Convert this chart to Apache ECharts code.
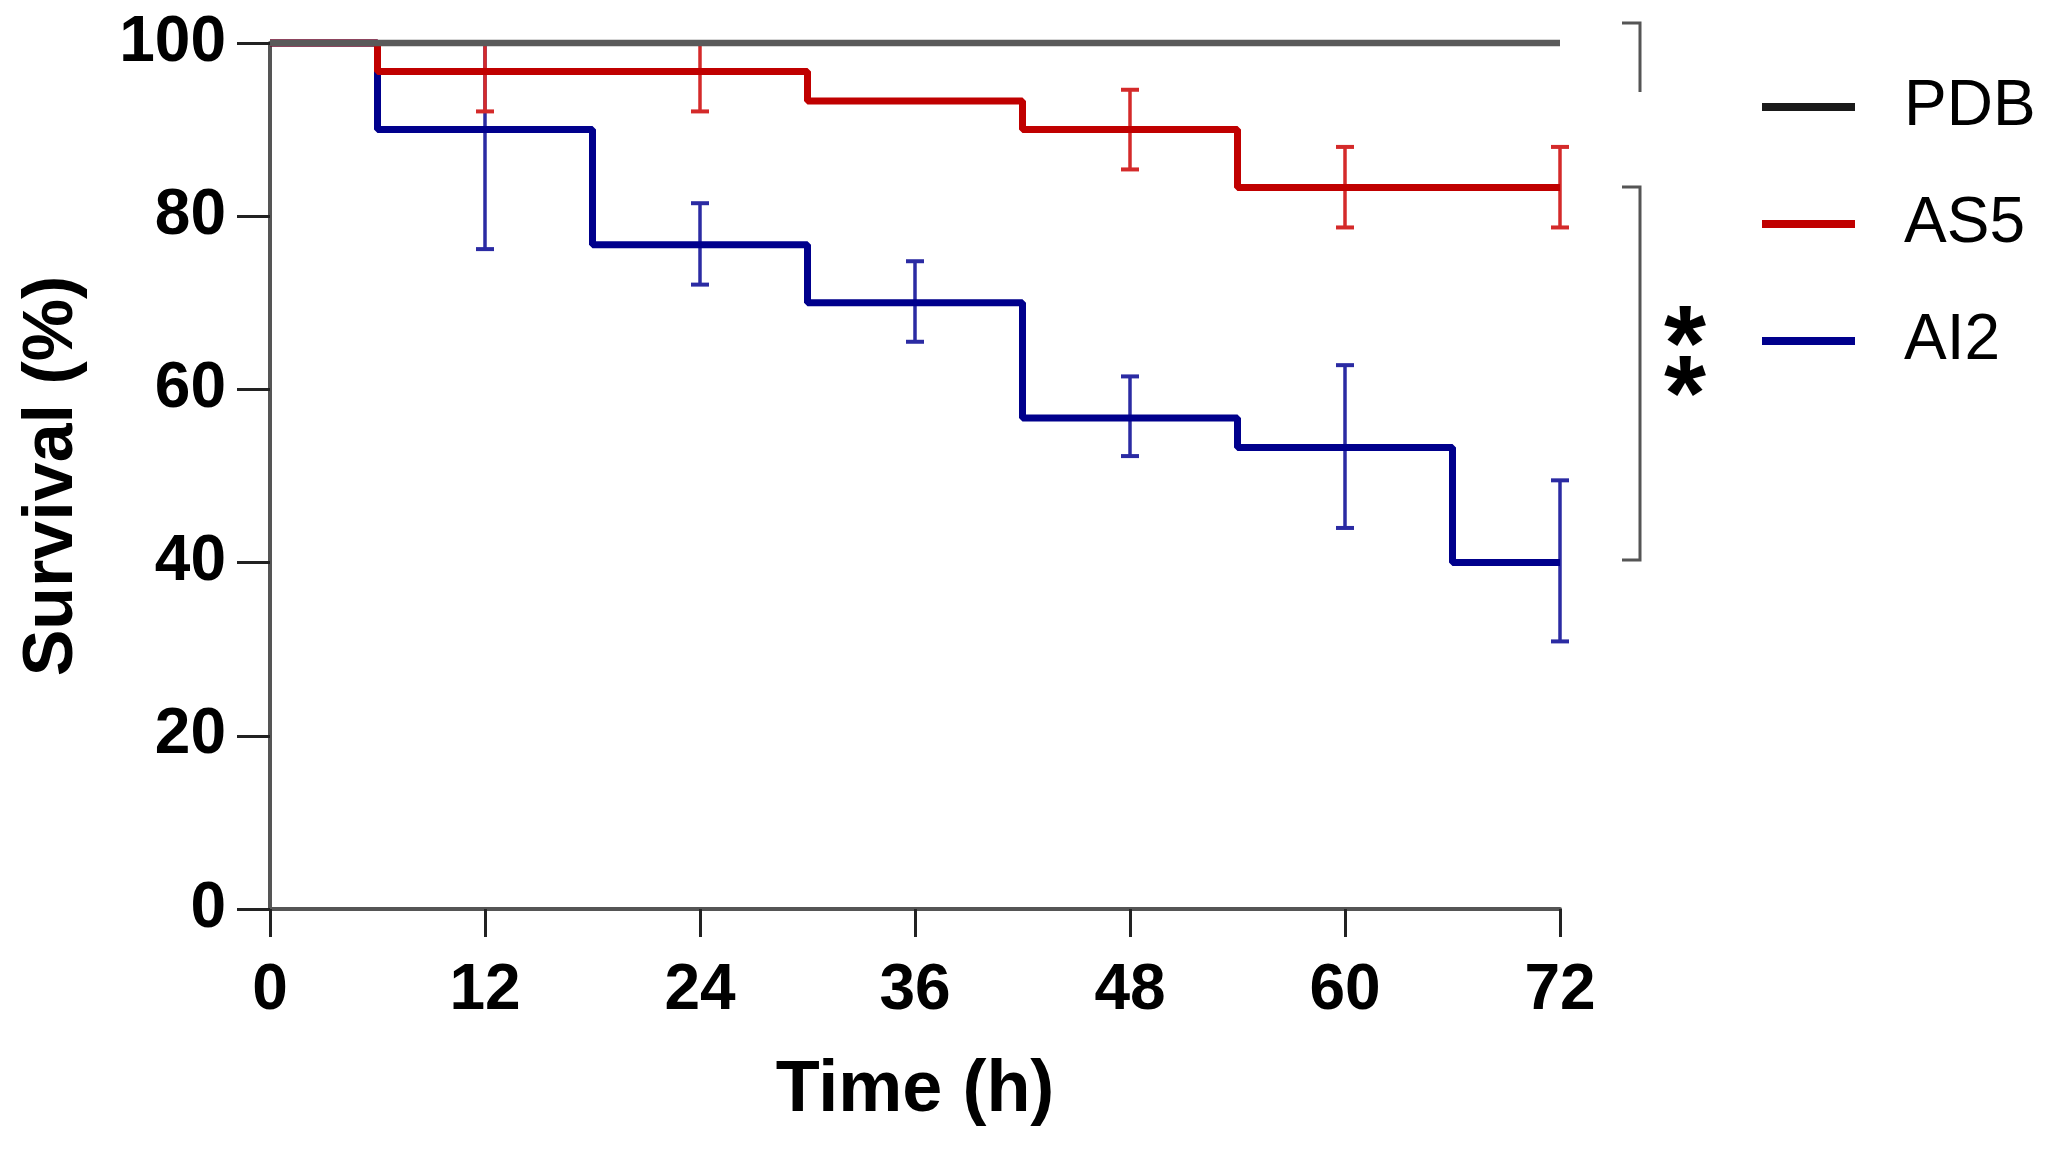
<!DOCTYPE html>
<html>
<head>
<meta charset="utf-8">
<script src="https://cdn.jsdelivr.net/npm/echarts@6/dist/echarts.min.js"></script>
<style>
html,body{margin:0;padding:0;background:#fff;}
#chart{width:2049px;height:1157px;}
</style>
</head>
<body>
<div id="chart"></div>
<script>
// ---- data ----
const xTicks = [0, 12, 24, 36, 48, 60, 72];
const yTicks = [0, 20, 40, 60, 80, 100];
const seriesNames = ['PDB', 'AS5', 'AI2'];

const pdbTime = [0, 72];
const pdbSurv = [100, 100];

const as5Time = [0, 6, 30, 42, 54, 72];
const as5Surv = [100, 96.7, 93.3, 90, 83.3, 83.3];

const ai2Time = [0, 6, 18, 30, 42, 54, 66, 72];
const ai2Surv = [100, 90, 76.7, 70, 56.7, 53.3, 40, 40];

const as5ErrTime = [12, 24, 48, 60, 72];
const as5ErrLow  = [92.1, 92.1, 85.4, 78.7, 78.7];
const as5ErrHigh = [100, 100, 94.6, 88.0, 88.0];

const ai2ErrTime = [12, 24, 36, 48, 60, 72];
const ai2ErrLow  = [76.2, 72.1, 65.5, 52.3, 44.0, 30.9];
const ai2ErrHigh = [100, 81.5, 74.8, 61.5, 62.8, 49.5];

const significance = '*';

// ---- build ----
const zip = (a, b) => a.map((v, i) => [v, b[i]]);
const zip3 = (a, b, c) => a.map((v, i) => [v, b[i], c[i]]);

const FONT = 'Liberation Sans, Arial, sans-serif';
const C_PDB = '#1a1a1a', C_AS5 = '#c00000', C_AI2 = '#00008c';
const C_AS5_ERR = '#d42a2a', C_AI2_ERR = '#2b2ba3';

function errRender(color) {
  return function (params, api) {
    const x = api.value(0), lo = api.value(1), hi = api.value(2);
    const pLo = api.coord([x, lo]), pHi = api.coord([x, hi]);
    const cw = 9;
    const st = { stroke: color, lineWidth: 3.5 };
    return {
      type: 'group',
      children: [
        { type: 'line', shape: { x1: pLo[0], y1: pLo[1], x2: pHi[0], y2: pHi[1] }, style: st },
        { type: 'line', shape: { x1: pLo[0] - cw, y1: pLo[1], x2: pLo[0] + cw, y2: pLo[1] }, style: { stroke: color, lineWidth: 4 } },
        { type: 'line', shape: { x1: pHi[0] - cw, y1: pHi[1], x2: pHi[0] + cw, y2: pHi[1] }, style: { stroke: color, lineWidth: 4 } }
      ]
    };
  };
}

const chart = echarts.init(document.getElementById('chart'), null, { renderer: 'canvas' });

chart.setOption({
  backgroundColor: '#ffffff',
  animation: false,
  grid: { left: 270, right: 489, top: 43, bottom: 248, containLabel: false },
  xAxis: {
    type: 'value', min: xTicks[0], max: xTicks[xTicks.length - 1], interval: 12,
    name: 'Time (h)', nameLocation: 'middle', nameGap: 146,
    nameTextStyle: { fontFamily: FONT, fontWeight: 'bold', fontSize: 72, color: '#000' },
    axisLine: { show: true, onZero: false, lineStyle: { color: '#555', width: 4 } },
    axisTick: { show: true, length: 28, lineStyle: { color: '#222', width: 3 } },
    axisLabel: { fontFamily: FONT, fontWeight: 'bold', fontSize: 64, color: '#000', margin: 50 },
    splitLine: { show: false }
  },
  yAxis: {
    type: 'value', min: yTicks[0], max: yTicks[yTicks.length - 1], interval: 20,
    name: 'Survival (%)', nameLocation: 'middle', nameGap: 182, nameRotate: 90,
    nameTextStyle: { fontFamily: FONT, fontWeight: 'bold', fontSize: 70, color: '#000' },
    axisLine: { show: true, onZero: false, lineStyle: { color: '#555', width: 4 } },
    axisTick: { show: true, length: 33, lineStyle: { color: '#222', width: 3 } },
    axisLabel: { fontFamily: FONT, fontWeight: 'bold', fontSize: 64, color: '#000', margin: 44 },
    splitLine: { show: false }
  },
  legend: {
    data: seriesNames,
    orient: 'vertical', left: 1757, top: 70,
    icon: 'rect', itemWidth: 93, itemHeight: 8, itemGap: 53,
    textStyle: { fontFamily: FONT, fontSize: 64, color: '#000', lineHeight: 64, padding: [0, 0, 0, 44] },
    selectedMode: false
  },
  series: [
    { type: 'custom', name: 'AI2 err', renderItem: errRender(C_AI2_ERR), data: zip3(ai2ErrTime, ai2ErrLow, ai2ErrHigh), z: 2, clip: false, silent: true },
    { type: 'line', name: 'AI2', data: zip(ai2Time, ai2Surv), step: 'end', symbol: 'none', color: C_AI2, lineStyle: { width: 7, color: C_AI2 }, z: 3, clip: false },
    { type: 'custom', name: 'AS5 err', renderItem: errRender(C_AS5_ERR), data: zip3(as5ErrTime, as5ErrLow, as5ErrHigh), z: 4, clip: false, silent: true },
    { type: 'line', name: 'AS5', data: zip(as5Time, as5Surv), step: 'end', symbol: 'none', color: C_AS5, lineStyle: { width: 7, color: C_AS5 }, z: 5, clip: false },
    { type: 'line', name: 'PDB', data: zip(pdbTime, pdbSurv), step: 'end', symbol: 'none', color: C_PDB, lineStyle: { width: 6.5, color: '#5a5a5a' }, z: 6, clip: false }
  ],
  graphic: [
    { type: 'polyline', shape: { points: [[1622, 23], [1640, 23], [1640, 92]] }, style: { stroke: '#555', lineWidth: 3, fill: null } },
    { type: 'polyline', shape: { points: [[1622, 187], [1640, 187], [1640, 560], [1622, 560]] }, style: { stroke: '#555', lineWidth: 3, fill: null } },
    { type: 'text', x: 1685, y: 350, style: { text: significance, font: 'bold 108px ' + FONT, fill: '#000', textAlign: 'center', textVerticalAlign: 'middle' } },
    { type: 'text', x: 1685, y: 400, style: { text: significance, font: 'bold 108px ' + FONT, fill: '#000', textAlign: 'center', textVerticalAlign: 'middle' } }
  ]
});
</script>
</body>
</html>
